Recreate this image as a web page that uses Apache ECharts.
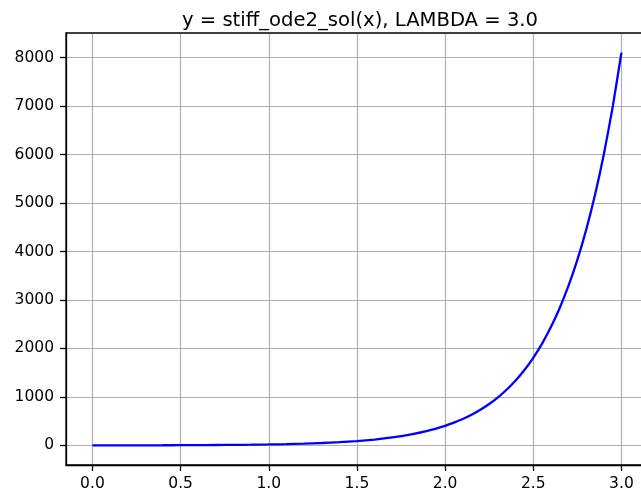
<!DOCTYPE html>
<html><head><meta charset="utf-8">
<script src="https://cdn.jsdelivr.net/npm/echarts@6/dist/echarts.min.js"></script>
<style>html,body{margin:0;padding:0;background:#fff}#c{width:641px;height:498px}</style>
</head><body><div id="c"></div>
<script>
const titleText = 'y = stiff_ode2_sol(x), LAMBDA = 3.0';
const xValues = [0,0.1,0.2,0.3,0.4,0.5,0.6,0.7,0.8,0.9,1.0,1.1,1.2,1.3,1.4,1.5,1.6,1.7,1.8,1.9,2.0,
  2.05,2.1,2.15,2.2,2.25,2.3,2.35,2.4,2.45,2.5,2.55,2.6,2.65,2.7,2.75,2.8,2.85,2.9,2.95,3.0];
const yValues = [1,1.35,1.82,2.46,3.32,4.48,6.05,8.17,11.0,14.9,20.1,27.1,36.6,49.4,66.7,90.0,121.5,164.0,221.4,298.9,403.4,
  468.7,544.6,632.7,735.1,854.1,992.3,1152.9,1339.4,1556.2,1808.0,2100.6,2440.6,2835.6,3294.5,3827.6,4447.1,5166.8,6002.9,6974.4,8103.1];
const xTicks = [0,0.5,1.0,1.5,2.0,2.5,3.0];
const yTicks = [0,1000,2000,3000,4000,5000,6000,7000,8000];

const font = 'DejaVu Sans';
const chart = echarts.init(document.getElementById('c'), null, {renderer:'canvas'});
chart.setOption({
  animation:false,
  title:{text:titleText,left:355,textAlign:'center',top:6,
    textStyle:{fontFamily:font,fontSize:19.6,fontWeight:'normal',color:'#000'}},
  grid:{left:66,top:33,right:0,height:432,show:false},
  xAxis:{type:'value',min:-0.15,max:3.111,
    axisLine:{show:true,onZero:false,lineStyle:{color:'#000',width:1.3}},
    axisTick:{show:true,customValues:xTicks,length:6,lineStyle:{color:'#000',width:1.3}},
    axisLabel:{customValues:xTicks,fontFamily:font,fontSize:15.5,color:'#000',margin:11,
      formatter:v=>v.toFixed(1)},
    splitLine:{show:true,customValues:xTicks,lineStyle:{color:'#b0b0b0',width:1.2}}},
  yAxis:{type:'value',min:-404,max:8508,
    axisLine:{show:true,onZero:false,lineStyle:{color:'#000',width:1.3}},
    axisTick:{show:true,customValues:yTicks,length:6,lineStyle:{color:'#000',width:1.3}},
    axisLabel:{customValues:yTicks,fontFamily:font,fontSize:15.5,color:'#000',margin:12,
      formatter:v=>String(v)},
    splitLine:{show:true,customValues:yTicks,lineStyle:{color:'#b0b0b0',width:1.2}}},
  graphic:[{type:'rect',shape:{x:66,y:33,width:600,height:432},
    style:{fill:'none',stroke:'#000',lineWidth:1.3},z:100,silent:true}],
  series:[{type:'line',data:xValues.map((x,i)=>[x,yValues[i]]),showSymbol:false,smooth:0.2,
    lineStyle:{color:'#0000ff',width:2.3},clip:false}]
});
</script></body></html>
